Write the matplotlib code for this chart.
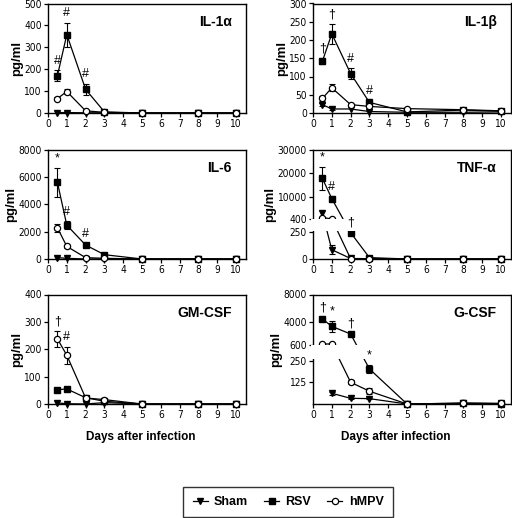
import numpy as np
import matplotlib
matplotlib.use('Agg')
import matplotlib.pyplot as plt
from matplotlib import font_manager
from matplotlib.font_manager import FontProperties
from matplotlib.lines import Line2D

plt.rcParams.update({
    'font.family': ['Liberation Sans', 'DejaVu Sans'],
    'axes.linewidth': 1.0,
    'xtick.direction': 'out', 'ytick.direction': 'out',
    'xtick.major.size': 3, 'ytick.major.size': 3,
    'xtick.major.width': 0.9, 'ytick.major.width': 0.9,
    'xtick.major.pad': 1.5, 'ytick.major.pad': 1.5,
})


def narrow_font():
    # tick numbers in the original are set in a condensed face
    regular = ('400', 'normal', 'regular', 'book')
    for f in font_manager.fontManager.ttflist:
        if f.name == 'Liberation Sans Narrow' and f.style == 'normal' and str(f.weight) in regular:
            return FontProperties(fname=f.fname), 7.8
    for f in font_manager.fontManager.ttflist:
        if (f.name == 'DejaVu Sans' and 'condensed' in str(f.stretch) and f.style == 'normal'
                and str(f.weight) in regular):
            return FontProperties(fname=f.fname), 7.3
    return FontProperties(family='Liberation Sans'), 7.2


TICK_FP, TICK_SIZE = narrow_font()

days = [0.5, 1, 2, 3, 5, 8, 10]
nan = np.nan

# ---- IL-1a ----
il1a_sham = [2, 2, 1, 1, 0, 0, 0]
il1a_rsv = [170, 358, 108, 5, 0, 0, 0]
il1a_rsv_err = [25, 55, 25, 2, 0, 0, 0]
il1a_hmpv = [66, 98, 10, 3, 0, 0, 0]
il1a_hmpv_err = [5, 12, 3, 0, 0, 0, 0]
il1a_marks = [(0.5, '#'), (1, '#'), (2, '#')]

# ---- IL-1b ----
il1b_sham = [23, 11, 11, 4, 2, 2, 3]
il1b_sham_err = [4, 2, 0, 0, 0, 0, 0]
il1b_rsv = [142, 217, 108, 29, 3, 8, 5]
il1b_rsv_err = [8, 28, 15, 5, 0, 0, 0]
il1b_hmpv = [40, 69, 23, 18, 12, 9, 6]
il1b_hmpv_err = [6, 10, 3, 3, 2, 0, 0]
il1b_marks = [(0.5, '\u2020'), (1, '\u2020'), (2, '#'), (3, '#')]

# ---- IL-6 ----
il6_sham = [100, 50, 0, 0, 0, 0, 0]
il6_rsv = [5600, 2470, 1020, 315, 0, 0, 0]
il6_rsv_err = [1050, 300, 80, 50, 0, 0, 0]
il6_hmpv = [2280, 920, 100, 50, 0, 0, 0]
il6_hmpv_err = [300, 80, 20, 10, 0, 0, 0]
il6_marks = [(0.5, '*'), (1, '#'), (2, '#')]

# ---- TNF-a ----
tnf_sham = [2900, 86, 5, 3, 0, 0, 0]
tnf_sham_err = [0, 40, 0, 0, 0, 0, 0]
tnf_rsv = [17700, 9130, 245, 13, 0, 0, 0]
tnf_rsv_err = [5000, 1100, 10, 3, 0, 0, 0]
tnf_hmpv = [1100, 500, 3, 2, 0, 0, 0]
tnf_marks = [(0.5, '*'), (1, '#'), (2, '\u2020')]

# ---- GM-CSF ----
gm_sham = [4, 1, 0, 5, 0, 0, 0]
gm_rsv = [52, 55, 23, 10, 0, 0, 0]
gm_rsv_err = [5, 4, 3, 2, 0, 0, 0]
gm_hmpv = [238, 178, 22, 16, 0, 0, 0]
gm_hmpv_err = [30, 32, 3, 3, 0, 0, 0]
gm_marks = [(0.5, '\u2020'), (1, '#')]

# ---- G-CSF ----
g_sham = [nan, 62, 33, 31, 0, 3, 3]
g_sham_err = [0, 8, 4, 4, 0, 0, 0]
g_rsv = [4450, 3370, 2260, 203, 0, 5, 2]
g_rsv_err = [300, 850, 200, 25, 0, 2, 0]
g_hmpv = [800, 820, 126, 74, 0, 5, 3]
g_hmpv_err = [0, 0, 12, 18, 0, 0, 0]
g_marks = [(0.5, '\u2020'), (1, '*'), (2, '\u2020'), (3, '*')]


def broken_scale(v_pts, d_pts):
    v = np.asarray(v_pts, float)
    d = np.asarray(d_pts, float)
    s0 = (d[1] - d[0]) / (v[1] - v[0])
    s1 = (d[-1] - d[-2]) / (v[-1] - v[-2])
    v = np.r_[v[0] - 1e7, v, v[-1] + 1e7]
    d = np.r_[d[0] - 1e7 * s0, d, d[-1] + 1e7 * s1]
    return (lambda x: np.interp(x, v, d)), (lambda y: np.interp(y, d, v))


STYLE = {
    'sham': dict(marker='v', mfc='black', mec='black', ms=4.5),
    'rsv': dict(marker='s', mfc='black', mec='black', ms=4.2),
    'hmpv': dict(marker='o', mfc='white', mec='black', ms=4.5, mew=0.9),
}


def panel(ax, title, series, yticks, ylim, marks, broken=None):
    x = np.asarray(days, float)
    if broken is not None:
        fwd, inv = broken_scale(*broken[:2])
        ax.set_yscale('function', functions=(fwd, inv))
    tops = np.zeros(len(days))
    for key, vals, err in series:
        y = np.asarray(vals, float)
        e = np.zeros(len(days)) if err is None else np.asarray(err, float)
        m = e > 0
        if m.any():
            ax.errorbar(x[m], y[m], yerr=e[m], fmt='none', ecolor='black',
                        elinewidth=0.8, capsize=2.3, capthick=0.8, zorder=2, clip_on=False)
        ax.plot(x, y, color='black', lw=0.9, zorder=3, clip_on=False, **STYLE[key])
        tops = np.fmax(tops, np.nan_to_num(y + e))
    if broken is not None:
        # blank the gap of the broken axis (lines and left spine)
        lo, hi = broken[2]
        ax.axhspan(lo, hi, xmin=-0.012, xmax=0.994, color='white', zorder=4,
                   clip_on=False, lw=0)
    for d, sym in marks:
        i = days.index(d)
        ax.annotate(sym, xy=(d, tops[i]), xytext=(0, 2.5), textcoords='offset points',
                    ha='center', va='bottom', fontsize=9, zorder=6, annotation_clip=False)
    ax.set_xlim(0, 10.5)
    ax.set_ylim(*ylim)
    ax.set_xticks(range(0, 11))
    ax.set_yticks(yticks)
    for lab in ax.get_xticklabels() + ax.get_yticklabels():
        lab.set_fontproperties(TICK_FP)
        lab.set_fontsize(TICK_SIZE)
    ax.minorticks_off()
    ax.set_ylabel('pg/ml', fontsize=9.5, fontweight='bold', labelpad=1)
    ax.text(0.93, 0.835, title, transform=ax.transAxes, ha='right', va='center',
            fontsize=10, fontweight='bold', zorder=6)


fig = plt.figure(figsize=(5.12, 5.18), dpi=100)
lefts = [48 / 512, 313 / 512]
width = 197.5 / 512
bottoms = [1 - 113 / 518, 1 - 259 / 518, 1 - 404 / 518]
height = 109.5 / 518
axs = [[fig.add_axes([l, b, width, height]) for l in lefts] for b in bottoms]

panel(axs[0][0], 'IL-1\u03b1',
      [('sham', il1a_sham, None), ('rsv', il1a_rsv, il1a_rsv_err), ('hmpv', il1a_hmpv, il1a_hmpv_err)],
      [0, 100, 200, 300, 400, 500], (0, 500), il1a_marks)
panel(axs[0][1], 'IL-1\u03b2',
      [('sham', il1b_sham, il1b_sham_err), ('rsv', il1b_rsv, il1b_rsv_err), ('hmpv', il1b_hmpv, il1b_hmpv_err)],
      [0, 50, 100, 150, 200, 250, 300], (0, 300), il1b_marks)
panel(axs[1][0], 'IL-6',
      [('sham', il6_sham, None), ('rsv', il6_rsv, il6_rsv_err), ('hmpv', il6_hmpv, il6_hmpv_err)],
      [0, 2000, 4000, 6000, 8000], (0, 8000), il6_marks)
panel(axs[1][1], 'TNF-\u03b1',
      [('sham', tnf_sham, tnf_sham_err), ('rsv', tnf_rsv, tnf_rsv_err), ('hmpv', tnf_hmpv, None)],
      [0, 250, 400, 10000, 20000, 30000], (0, 30000), tnf_marks,
      broken=([0, 262, 400, 30000], [0, 28.3, 40, 110], (262, 400)))
panel(axs[2][0], 'GM-CSF',
      [('sham', gm_sham, None), ('rsv', gm_rsv, gm_rsv_err), ('hmpv', gm_hmpv, gm_hmpv_err)],
      [0, 100, 200, 300, 400], (0, 400), gm_marks)
panel(axs[2][1], 'G-CSF',
      [('sham', g_sham, g_sham_err), ('rsv', g_rsv, g_rsv_err), ('hmpv', g_hmpv, g_hmpv_err)],
      [125, 250, 600, 4000, 8000], (0, 8000), g_marks,
      broken=([0, 260, 600, 8000], [0, 44.7, 58.3, 109], (260, 600)))

fig.text(141 / 512, 1 - 437 / 518, 'Days after infection', ha='center', va='center',
         fontsize=8.5, fontweight='bold')
fig.text(396 / 512, 1 - 437 / 518, 'Days after infection', ha='center', va='center',
         fontsize=8.5, fontweight='bold')

handles = [Line2D([], [], color='black', lw=0.9, **STYLE[k]) for k in ('sham', 'rsv', 'hmpv')]
leg = fig.legend(handles, ['Sham', 'RSV', 'hMPV'], ncol=3, loc='center',
                 bbox_to_anchor=(288 / 512, 1 - 502 / 518), frameon=True, fancybox=False,
                 handlelength=1.2, handletextpad=0.5, columnspacing=1.3,
                 borderpad=0.75, prop={'weight': 'bold', 'size': 9})
leg.get_frame().set_edgecolor('black')
leg.get_frame().set_linewidth(1.0)

fig.savefig('out.png', dpi=100)
